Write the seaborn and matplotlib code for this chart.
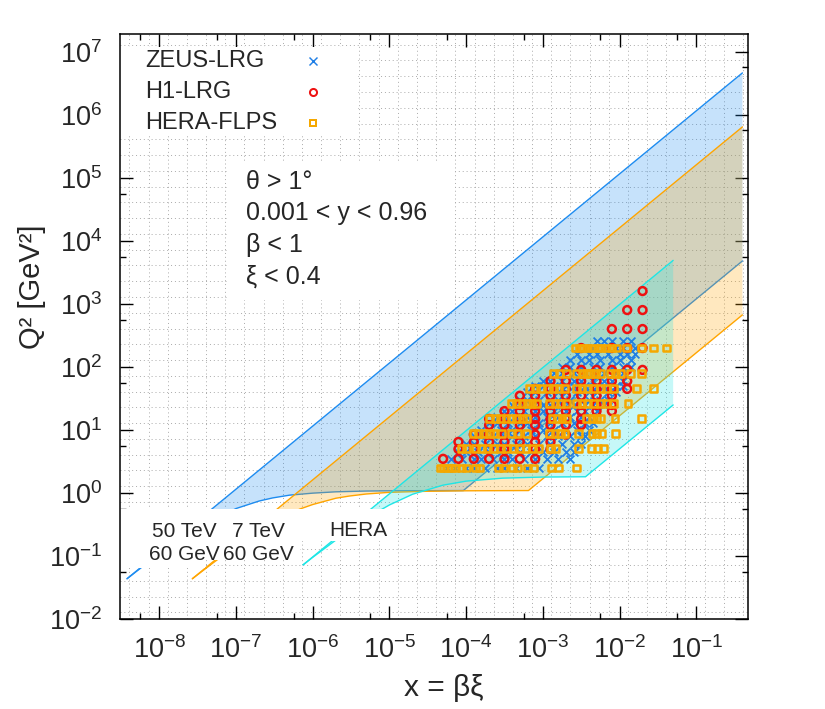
import numpy as np
import pandas as pd
import matplotlib
matplotlib.use("Agg")
import matplotlib.pyplot as plt
import matplotlib.ticker as mticker
from matplotlib.patches import Polygon, Rectangle
import seaborn as sns

# kinematic regions, (x, Q2) along the upper and lower edges
lhec50_upper_x = [3.8e-9, 0.4]
lhec50_upper_q2 = [0.044, 4.6e6]
lhec50_lower_x = [3.8e-9, 1e-8, 3e-8, 1e-7, 2e-7, 3e-7, 5e-7, 1e-6, 2e-6, 5e-6, 1e-5, 9.2e-5, 0.4]
lhec50_lower_q2 = [0.044, 0.11, 0.27, 0.57, 0.75, 0.84, 0.93, 1.0, 1.05, 1.08, 1.09, 1.10, 4.8e3]

lhec7_upper_x = [2.7e-8, 0.4]
lhec7_upper_q2 = [0.044, 6.4e5]
lhec7_lower_x = [2.7e-8, 5e-8, 1e-7, 3e-7, 6.8e-7, 1e-6, 2e-6, 3e-6, 5e-6, 1e-5, 3e-5, 1e-4, 6.5e-4, 0.4]
lhec7_lower_q2 = [0.044, 0.078, 0.146, 0.345, 0.56, 0.66, 0.83, 0.90, 0.97, 1.03, 1.07, 1.09, 1.10, 670]

hera_upper_x = [7.5e-7, 0.05]
hera_upper_q2 = [0.073, 4.9e3]
hera_lower_x = [7.5e-7, 1e-6, 2e-6, 5e-6, 1e-5, 2e-5, 5e-5, 1e-4, 3e-4, 1e-3, 3.6e-3, 0.05]
hera_lower_q2 = [0.073, 0.096, 0.18, 0.40, 0.65, 0.96, 1.34, 1.55, 1.73, 1.80, 1.82, 25]

# measurements: one Q2 per row, log10(x) of the points in that row
zeus_q2 = [2.5, 3.5, 4.5, 6, 8, 10, 13, 16, 20, 25, 30, 40, 50, 60, 80, 100, 130, 160, 200, 255]
zeus_logx = [
    [-4.25, -4.15, -4.0, -3.9, -3.75, -3.6, -3.5, -3.35, -3.2, -3.05],
    [-4.2, -4.05, -3.9, -3.8, -3.65, -3.5, -3.4, -3.25, -3.1, -2.95, -2.8, -2.65],
    [-4.1, -4.0, -3.85, -3.7, -3.55, -3.45, -3.3, -3.15, -3.0, -2.85, -2.7, -2.6],
    [-4.0, -3.9, -3.75, -3.6, -3.5, -3.35, -3.2, -3.05, -2.9, -2.75, -2.6, -2.5],
    [-3.9, -3.8, -3.65, -3.5, -3.4, -3.25, -3.1, -2.95, -2.8, -2.65, -2.5, -2.45],
    [-3.8, -3.7, -3.55, -3.4, -3.3, -3.15, -3.0, -2.85, -2.7, -2.55, -2.4],
    [-3.7, -3.6, -3.45, -3.3, -3.2, -3.05, -2.9, -2.75, -2.6, -2.45, -2.35],
    [-3.6, -3.5, -3.35, -3.2, -3.1, -2.95, -2.8, -2.65, -2.5, -2.4],
    [-3.5, -3.4, -3.25, -3.1, -3.0, -2.85, -2.7, -2.55, -2.45, -2.3],
    [-3.4, -3.3, -3.15, -3.0, -2.9, -2.75, -2.6, -2.45, -2.35, -2.2],
    [-3.3, -3.2, -3.05, -2.9, -2.8, -2.65, -2.5, -2.4, -2.25, -2.15],
    [-3.2, -3.1, -2.95, -2.8, -2.7, -2.55, -2.4, -2.3, -2.15, -2.05],
    [-3.1, -3.0, -2.85, -2.7, -2.6, -2.45, -2.3, -2.2, -2.05, -1.95],
    [-3.0, -2.9, -2.75, -2.6, -2.5, -2.35, -2.2, -2.1, -1.95],
    [-2.85, -2.75, -2.6, -2.45, -2.35, -2.2, -2.05, -1.95],
    [-2.75, -2.65, -2.5, -2.35, -2.25, -2.1, -1.95, -1.85],
    [-2.65, -2.5, -2.4, -2.25, -2.1, -2.0, -1.85],
    [-2.55, -2.4, -2.3, -2.15, -2.0, -1.9, -1.8],
    [-2.45, -2.35, -2.2, -2.05, -1.95, -1.8],
    [-2.3, -2.2, -2.1, -1.95, -1.85],
]

h1_q2 = [3.5, 5, 6.5, 8.5, 12, 15, 20, 25, 35, 45, 60, 90, 200, 400, 800, 1600]
h1_logx = [
    [-4.3, -4.1, -3.9, -3.7, -3.5, -3.3, -3.1],
    [-4.1, -3.9, -3.7, -3.5, -3.3, -3.1, -2.9],
    [-4.1, -3.9, -3.7, -3.5, -3.3, -3.1, -2.9],
    [-3.9, -3.7, -3.5, -3.3, -3.1, -2.9, -2.7],
    [-3.7, -3.5, -3.3, -3.1, -2.9, -2.7, -2.5],
    [-3.7, -3.5, -3.3, -3.1, -2.9, -2.7, -2.5],
    [-3.5, -3.3, -3.1, -2.9, -2.7, -2.5, -2.3, -2.1],
    [-3.3, -3.1, -2.9, -2.7, -2.5, -2.3, -2.1],
    [-3.3, -3.1, -2.9, -2.7, -2.5, -2.3, -2.1],
    [-3.1, -2.9, -2.7, -2.5, -2.3, -2.1, -1.9],
    [-2.9, -2.7, -2.5, -2.3, -2.1, -1.9],
    [-2.7, -2.5, -2.3, -2.1, -1.9, -1.7],
    [-2.5, -2.1, -1.9, -1.7],
    [-2.1, -1.9, -1.7],
    [-1.9, -1.7],
    [-1.7],
]

flps_q2 = [2.5, 5.1, 8.8, 15.3, 26.5, 46, 80, 200]
flps_logx = [
    [-4.34, -4.29, -4.24, -4.19, -4.14, -4.06, -3.99, -3.88, -3.83, -3.58, -3.51, -3.40, -3.33,
     -3.20, -3.12, -2.89, -2.80, -2.56],
    [-4.06, -4.0, -3.88, -3.80, -3.72, -3.64, -3.55, -3.47, -3.38, -3.30, -3.22, -3.14, -3.05,
     -2.90, -2.83, -2.54, -2.37, -2.29, -2.21],
    [-3.91, -3.84, -3.77, -3.70, -3.64, -3.54, -3.41, -3.33, -3.21, -2.91, -2.84, -2.77, -2.71,
     -2.54, -2.36, -2.30, -2.23, -2.05],
    [-3.69, -3.62, -3.55, -3.48, -3.41, -3.34, -3.27, -3.21, -2.88, -2.81, -2.75, -2.69, -2.43,
     -2.36, -2.30, -2.25, -2.06, -1.71],
    [-3.41, -3.34, -3.27, -3.20, -3.14, -3.08, -2.91, -2.84, -2.77, -2.69, -2.56, -2.49, -2.42,
     -2.34, -2.25, -2.17, -2.08, -1.89],
    [-3.17, -3.10, -3.03, -2.93, -2.86, -2.79, -2.72, -2.56, -2.49, -2.42, -2.34, -2.25, -2.17,
     -2.08, -1.78, -1.56],
    [-2.86, -2.78, -2.69, -2.56, -2.49, -2.43, -2.38, -2.31, -2.25, -2.12, -2.05, -1.99, -1.86, -1.71],
    [-2.58, -2.52, -2.47, -2.41, -2.35, -2.29, -2.23, -2.17, -2.10, -2.04, -1.91, -1.71, -1.56, -1.39],
]

series_names = ["ZEUS-LRG", "H1-LRG", "HERA-FLPS"]
series_colors = ["#1f7fe6", "#ee1111", "#f5a800"]


def rows_to_frame(q2_rows, logx_rows, name):
    recs = []
    for q2, lxs in zip(q2_rows, logx_rows):
        for lx in lxs:
            recs.append({"x": 10.0 ** lx, "Q2": q2, "set": name})
    return pd.DataFrame(recs)


points = pd.concat([
    rows_to_frame(zeus_q2, zeus_logx, series_names[0]),
    rows_to_frame(h1_q2, h1_logx, series_names[1]),
    rows_to_frame(flps_q2, flps_logx, series_names[2]),
], ignore_index=True)

sns.set_theme(style="ticks")
plt.rcParams["font.family"] = ["Liberation Sans", "DejaVu Sans"]
plt.rcParams["mathtext.fontset"] = "custom"
plt.rcParams["mathtext.rm"] = "Liberation Sans"
plt.rcParams["mathtext.default"] = "regular"

fig = plt.figure(figsize=(8.25, 7.09), dpi=100)
ax = fig.add_axes([0.1455, 0.1265, 0.7616, 0.8255])
ax.set_xscale("log")
ax.set_yscale("log")

# pixel -> axes fraction helpers for the annotation layout
fx = lambda px: (px - 120) / 628.3
fy = lambda py: (619.3 - py) / 585.3

# dotted background grid (offset from the ticks, as in the original)
for v in 10.0 ** (np.arange(-9, 0.01, 0.25) + 0.11):
    ax.axvline(v, color="#aaaaaa", lw=0.7, ls=(0, (1, 3)), zorder=0.5)
for v in 10.0 ** (np.arange(-3, 8.01, 0.25) + 0.11):
    ax.axhline(v, color="#aaaaaa", lw=0.7, ls=(0, (1, 3)), zorder=0.5)

regions = [
    (lhec50_upper_x, lhec50_upper_q2, lhec50_lower_x, lhec50_lower_q2, "#1e8cf0"),
    (lhec7_upper_x, lhec7_upper_q2, lhec7_lower_x, lhec7_lower_q2, "#ffa500"),
    (hera_upper_x, hera_upper_q2, hera_lower_x, hera_lower_q2, "#1ee6e6"),
]
for i, (ux, uq, lx, lq, col) in enumerate(regions):
    ax.fill(list(ux) + list(lx[::-1]), list(uq) + list(lq[::-1]),
            color=col, alpha=0.25, lw=0, zorder=1 + i)
    ax.plot(ux, uq, color=col, lw=1.0, zorder=1 + i)
    ax.plot(lx, lq, color=col, lw=1.0, zorder=1 + i)

# data points
marker_kw = [
    dict(marker="x", s=32, linewidth=1.3),
    dict(marker="o", s=32, linewidth=1.8, facecolor="none"),
    dict(marker="s", s=24, linewidth=1.8, facecolor="none"),
]
for i, name in enumerate(series_names):
    sub = points[points["set"] == name]
    kw = dict(marker_kw[i])
    if "facecolor" in kw:
        kw["edgecolor"] = series_colors[i]
    sns.scatterplot(data=sub, x="x", y="Q2", ax=ax, color=series_colors[i],
                    zorder=5 + i, legend=False, **kw)

# white boxes behind the key texts and the cut list
stair = [(fx(120), fy(509)), (fx(395), fy(509)), (fx(395), fy(541)), (fx(300), fy(541)),
         (fx(300), fy(560)), (fx(205), fy(560)), (fx(205), fy(568)), (fx(120), fy(568))]
ax.add_patch(Polygon(stair, closed=True, transform=ax.transAxes, fc="white", ec="none", zorder=8))
ax.add_patch(Rectangle((fx(229), fy(300)), fx(455) - fx(229), fy(163) - fy(300),
                       transform=ax.transAxes, fc="white", ec="none", zorder=8))
ax.add_patch(Rectangle((0, fy(134)), fx(358), fy(47) - fy(134),
                       transform=ax.transAxes, fc="white", ec="none", zorder=8))

ax.text(fx(184), fy(543), "50 TeV\n60 GeV", transform=ax.transAxes, ha="center", va="center",
        fontsize=15, linespacing=1.3, zorder=9)
ax.text(fx(258.5), fy(543), "7 TeV\n60 GeV", transform=ax.transAxes, ha="center", va="center",
        fontsize=15, linespacing=1.3, zorder=9)
ax.text(fx(358), fy(530), "HERA", transform=ax.transAxes, ha="center", va="center",
        fontsize=15, zorder=9)

for txt, py in [("θ > 1°", 182), ("0.001 < y < 0.96", 213), ("β < 1", 245), ("ξ < 0.4", 277)]:
    ax.text(fx(246), fy(py), txt, transform=ax.transAxes, ha="left", va="center",
            fontsize=18, zorder=9)

# key: label on the left, sample marker on the right
for i, (name, py) in enumerate(zip(series_names, [61, 92, 123])):
    ax.text(fx(145), fy(py), name, transform=ax.transAxes, ha="left", va="center",
            fontsize=17, zorder=9)
    mk = marker_kw[i]
    ax.plot([fx(313)], [fy(py)], transform=ax.transAxes, ls="none", marker=mk["marker"],
            ms=np.sqrt(mk["s"]) * 0.9, mew=mk["linewidth"] * 0.8, color=series_colors[i],
            mfc="none" if "facecolor" in mk else series_colors[i], zorder=9, clip_on=False)

ax.set_xlim(3.08e-9, 0.478)
ax.set_ylim(1e-2, 1.9e7)

ax.xaxis.set_major_locator(mticker.FixedLocator(10.0 ** np.arange(-8, 0)))
ax.yaxis.set_major_locator(mticker.FixedLocator(10.0 ** np.arange(-2, 8)))
ax.xaxis.set_major_formatter(mticker.FuncFormatter(lambda v, p: r"$10^{%d}$" % round(np.log10(v))))
ax.yaxis.set_major_formatter(mticker.FuncFormatter(lambda v, p: r"$10^{%d}$" % round(np.log10(v))))
ax.xaxis.set_minor_locator(mticker.FixedLocator(10.0 ** (np.arange(-8, 1) - 0.25)))
ax.yaxis.set_minor_locator(mticker.FixedLocator(10.0 ** (np.arange(-1, 8) - 0.25)))
ax.xaxis.set_minor_formatter(mticker.NullFormatter())
ax.yaxis.set_minor_formatter(mticker.NullFormatter())
ax.tick_params(which="both", direction="in", top=True, right=True, width=1.0, color="black")
ax.tick_params(which="major", length=9.5, labelsize=19.5)
ax.tick_params(axis="x", which="major", pad=12.5)
ax.tick_params(axis="y", which="major", pad=13)
ax.tick_params(which="minor", length=4.5)
for sp in ax.spines.values():
    sp.set_linewidth(1.1)
    sp.set_color("black")
    sp.set_zorder(12)

ax.set_xlabel("x = βξ", fontsize=21.5)
ax.set_ylabel("Q² [GeV²]", fontsize=21)
ax.xaxis.set_label_coords(fx(444), fy(674))
ax.yaxis.set_label_coords(fx(32), fy(287))
ax.yaxis.label.set_va("center")
ax.xaxis.label.set_va("top")

fig.savefig("out.png", dpi=100)
